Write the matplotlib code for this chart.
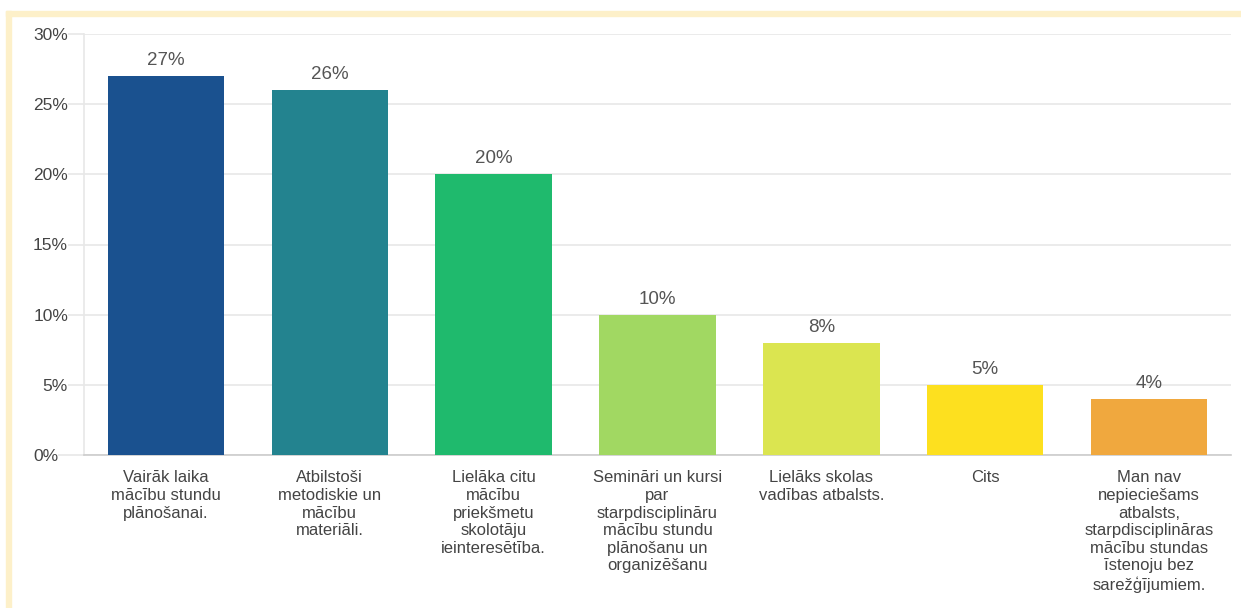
import matplotlib.pyplot as plt
from matplotlib.patches import Rectangle
from matplotlib.transforms import ScaledTranslation

plt.rcParams['font.family'] = ['Liberation Sans', 'DejaVu Sans']

categories = [
    'Vairāk laika\nmācību stundu\nplānošanai.',
    'Atbilstoši\nmetodiskie un\nmācību\nmateriāli.',
    'Lielāka citu\nmācību\npriekšmetu\nskolotāju\nieinteresētība.',
    'Semināri un kursi\npar\nstarpdisciplināru\nmācību stundu\nplānošanu un\norganizēšanu',
    'Lielāks skolas\nvadības atbalsts.',
    'Cits',
    'Man nav\nnepieciešams\natbalsts,\nstarpdisciplināras\nmācību stundas\nīstenoju bez\nsarežģījumiem.',
]
shares = [27, 26, 20, 10, 8, 5, 4]
colors = ['#1a518f', '#23838f', '#1fba6d', '#a1d862', '#dbe550', '#fde01f', '#f0a83e']
y_ticks = [0, 5, 10, 15, 20, 25, 30]

text_col = '#444444'
grid_col = '#e8e8e8'

fig = plt.figure(figsize=(12.41, 6.08), dpi=100)

# pale yellow frame along the top and left edges
frame = '#fdf0c9'
fig.patches.append(Rectangle((6 / 1241, 1 - 16 / 608), 1, 5 / 608,
                             transform=fig.transFigure, color=frame, zorder=0))
fig.patches.append(Rectangle((6 / 1241, 0), 5 / 1241, 1 - 11 / 608,
                             transform=fig.transFigure, color=frame, zorder=0))

ax = fig.add_axes([84 / 1241, 1 - 455 / 608, 1147 / 1241, 421 / 608])
x = range(len(shares))
ax.bar(x, shares, width=0.71, color=colors, zorder=3)
for i, v in zip(x, shares):
    ax.annotate(f'{v}%', (i, v), xytext=(0, 5), textcoords='offset points',
                ha='center', va='bottom', fontsize=13.5, color='#555555')

ax.set_xlim(-0.5, len(shares) - 0.5)
ax.set_ylim(0, 30)
ax.set_yticks(y_ticks)
ax.set_yticklabels([f'{t}%' for t in y_ticks])
ax.yaxis.grid(True, color=grid_col, lw=1.2, zorder=0)
ax.tick_params(axis='y', length=11.5, width=1.2, color=grid_col, pad=0,
               labelsize=12.5, labelcolor=text_col)

ax.set_xticks(list(x))
ax.set_xticklabels(categories)
ax.tick_params(axis='x', length=0, pad=11, labelsize=12, labelcolor=text_col)
for lab in ax.get_xticklabels():
    lab.set_linespacing(1.22)

for side in ['top', 'right']:
    ax.spines[side].set_visible(False)
ax.spines['left'].set_color(grid_col)
ax.spines['left'].set_linewidth(1.2)
ax.spines['bottom'].set_color('#cccccc')
ax.spines['bottom'].set_linewidth(1.2)

# the zero line runs a bit further left than the other grid lines
zero = ax.yaxis.get_major_ticks()[0]
zero.tick1line.set_markersize(19)
zero.tick1line.set_color('#cccccc')
zero.label1.set_transform(zero.label1.get_transform() +
                          ScaledTranslation(-10 / 100, 0, fig.dpi_scale_trans))

fig.savefig('out.png', dpi=100)
